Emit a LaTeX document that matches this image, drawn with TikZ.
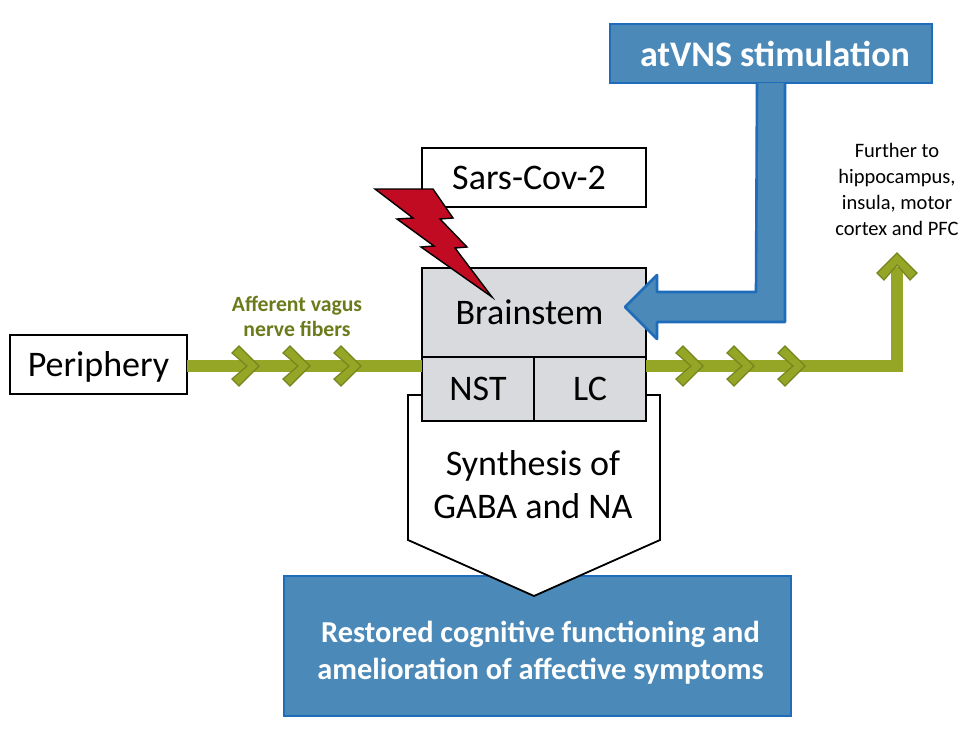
\documentclass[tikz,border=0pt]{standalone}
\usepackage{fontspec}
\setmainfont{Carlito}
\usetikzlibrary{positioning}
\definecolor{fibergreen}{HTML}{95A525}
\definecolor{fiberedge}{HTML}{74851F}
\definecolor{fibertext}{HTML}{6B7B1C}
\definecolor{atvnsblue}{HTML}{4B8AB8}
\definecolor{atvnsedge}{HTML}{1F6DBA}
\definecolor{boxgrey}{HTML}{D9DADD}
\definecolor{boltred}{HTML}{C00B23}

\begin{document}
\begin{tikzpicture}[
  x=1pt, y=-1pt,
  node distance=0pt,
  box/.style={draw=black, line width=1.8pt, fill=white, align=center, outer sep=0pt, inner sep=0pt, font=\fontsize{36}{40}\selectfont},
  greybox/.style={box, fill=boxgrey},
  bluebox/.style={draw=atvnsedge, line width=2.6pt, fill=atvnsblue, text=white, align=center, outer sep=0pt, inner sep=0pt},
  fiber/.style={line width=0.7pt, draw=fiberedge, double=fibergreen, double distance=11.4pt, line join=miter},
  chevron/.pic={\draw[fill=fibergreen, draw=fiberedge, line width=1.2pt, line join=miter] (0,0) -- (-20,-20) -- (-27,-13) -- (-12,0) -- (-27,13) -- (-20,20) -- cycle;}
]
\useasboundingbox (0,0) rectangle (980,737);

% outcome box and the pentagon that points into it
\node[bluebox, minimum width=507pt, minimum height=140pt] (outcome) at (537.5,646) {};
\node[text=white, align=center, font=\bfseries\fontsize{30.4}{37}\selectfont] (outcometext) at (540.5,653) {Restored cognitive functioning and\\amelioration of affective symptoms};
\draw[draw=black, line width=1.8pt, fill=white, line join=miter] (408,395) -- (408,540) -- (534,596) -- (660,540) -- (660,395) -- cycle;
\node[align=center, font=\fontsize{36}{43}\selectfont] (synthesis) at (533,485) {Synthesis of\\GABA and NA};

% brainstem block
\node[greybox, minimum width=224pt, minimum height=89pt] (brainstem) at (534,312.5) {Brainstem\hspace*{9pt}};
\node[greybox, minimum width=112pt, minimum height=64pt, below=of brainstem.south west, anchor=north west] (nst) {NST};
\node[greybox, minimum width=112pt, minimum height=64pt, right=of nst] (lc) {LC};
\node[box, minimum width=224pt, minimum height=59pt, above=61pt of brainstem] (sars) {Sars-Cov-2\hspace*{10pt}};

\node[box, minimum width=177pt, minimum height=59pt, text height=23pt, text depth=0pt] (periphery) at (98.5,364.5) {Periphery};
\node[bluebox, minimum width=322pt, minimum height=59pt, text height=25pt, text depth=0pt, font=\bfseries\fontsize{36}{40}\selectfont] (atvns) at (771,53.5) {\hspace*{8pt}atVNS stimulation};

% afferent fibers into the brainstem
\draw[fiber] ([yshift=-1.5pt]periphery.east) -- ([yshift=-1.5pt]periphery.east -| nst.west);
\foreach \tipx in {259,310,361}
  \pic at (\tipx,366) {chevron};
\node[text=fibertext, align=center, font=\bfseries\fontsize{21.7}{25}\selectfont] (afferent) at (297,316) {Afferent vagus\\nerve fibers};

% onward projection
\node[align=center, font=\fontsize{20.5}{26}\selectfont] (further) at (897,189) {Further to\\hippocampus,\\insula, motor\\cortex and PFC};
\coordinate (furtherend) at (897,267);
\draw[fiber] ([yshift=-9pt]lc.north east) -| (furtherend);
\foreach \tipx in {703,754,805}
  \pic at (\tipx,366) {chevron};
\pic[rotate=90] at (897,253) {chevron};

% stimulation arrow from the atVNS box
\draw[draw=atvnsedge, line width=2.6pt, fill=atvnsblue, line join=round] (atvns.south -| 757,0) -- (756,292) -- (657,292) -- (657,275) -- (625,307) -- (657,339) -- (657,322) -- (785,322) -- (atvns.south -| 785,0);

% infection bolt
\draw[draw=black, line width=1.4pt, fill=boltred, line join=miter] (375,189) -- (433,189) -- (453,218) -- (440,219) -- (467,247) -- (455,248) -- (492,297) -- (421,247) -- (434,246) -- (397,219) -- (413,218) -- cycle;
\end{tikzpicture}
\end{document}
